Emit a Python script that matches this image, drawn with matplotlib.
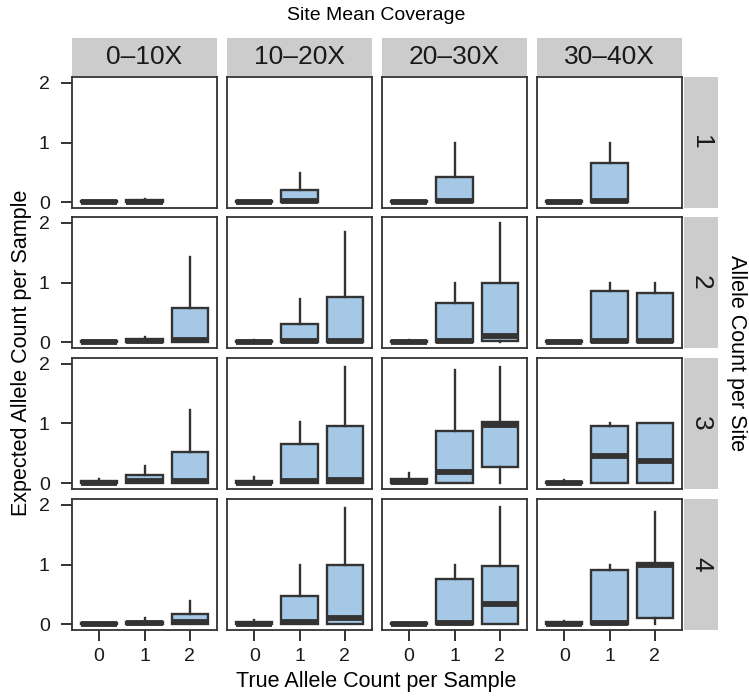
import matplotlib.pyplot as plt
import numpy as np

plt.rcParams['font.family'] = ['Liberation Sans', 'DejaVu Sans']

coverage = ['0\u201310X', '10\u201320X', '20\u201330X', '30\u201340X']
site_counts = ['1', '2', '3', '4']
true_counts = [0, 1, 2]

# box stats per [row = allele count per site][col = coverage][x = true count]
whisk_lo = [
    [[0, 0], [0, 0], [0, 0], [0, 0]],
    [[0, 0, 0], [0, 0, 0], [0, 0, 0], [0, 0, 0]],
    [[0, 0, 0], [0, 0, 0], [0, 0, 0.0], [0, 0, 0]],
    [[0, 0, 0], [0, 0, 0], [0, 0, 0], [0, 0, 0.0]],
]
q1 = [
    [[0, 0], [0, 0], [0, 0], [0, 0]],
    [[0, 0, 0], [0, 0, 0], [0, 0, 0.02], [0, 0, 0]],
    [[0, 0, 0], [0, 0, 0], [0, 0, 0.27], [0, 0, 0]],
    [[0, 0, 0], [0, 0, 0], [0, 0, 0], [0, 0, 0.1]],
]
med = [
    [[0, 0], [0, 0.02], [0, 0.02], [0, 0.02]],
    [[0, 0.02, 0.03], [0, 0.02, 0.02], [0, 0.02, 0.1], [0, 0.02, 0.02]],
    [[0, 0.03, 0.03], [0, 0.03, 0.05], [0.02, 0.18, 0.97], [0, 0.45, 0.37]],
    [[0, 0.02, 0.03], [0, 0.03, 0.1], [0, 0.02, 0.33], [0, 0.02, 1.0]],
]
q3 = [
    [[0.02, 0.03], [0.02, 0.2], [0.02, 0.42], [0.02, 0.65]],
    [[0.02, 0.05, 0.58], [0.02, 0.3, 0.75], [0.02, 0.66, 1.0], [0.02, 0.85, 0.83]],
    [[0.03, 0.13, 0.52], [0.04, 0.66, 0.96], [0.06, 0.88, 1.02], [0.02, 0.95, 1.0]],
    [[0.02, 0.04, 0.17], [0.03, 0.47, 1.0], [0.02, 0.76, 0.98], [0.03, 0.9, 1.02]],
]
whisk_hi = [
    [[0.02, 0.05], [0.02, 0.48], [0.02, 1.0], [0.02, 1.0]],
    [[0.02, 0.08, 1.42], [0.04, 0.73, 1.85], [0.03, 1.0, 2.0], [0.02, 1.0, 1.0]],
    [[0.07, 0.28, 1.22], [0.1, 1.02, 1.95], [0.17, 1.9, 1.95], [0.05, 1.0, 1.0]],
    [[0.02, 0.1, 0.38], [0.06, 1.0, 1.95], [0.02, 1.0, 1.97], [0.05, 1.0, 1.88]],
]

W, H = 749, 696
fig = plt.figure(figsize=(W / 100, H / 100), dpi=100)

col_left = [72, 227, 382, 537]
row_top = [77, 217, 358, 499]
pw, ph = 145, 131
edge = '#333333'
fill = '#a4c8e6'
strip_col = '#cccccc'


def fig_rect(x, y, w, h):
    return [x / W, 1 - (y + h) / H, w / W, h / H]


for r in range(4):
    for c in range(4):
        ax = fig.add_axes(fig_rect(col_left[c], row_top[r], pw, ph))
        stats = []
        for i in range(len(med[r][c])):
            stats.append(dict(whislo=whisk_lo[r][c][i], q1=q1[r][c][i], med=med[r][c][i],
                              q3=q3[r][c][i], whishi=whisk_hi[r][c][i], fliers=[]))
        ax.bxp(stats, positions=true_counts[:len(stats)], widths=0.8,
               patch_artist=True, showcaps=False, showfliers=False,
               boxprops=dict(facecolor=fill, edgecolor=edge, linewidth=1.7),
               whiskerprops=dict(color=edge, linewidth=1.7),
               medianprops=dict(color=edge, linewidth=4.2, solid_capstyle='butt'))
        ax.set_xlim(-0.6, 2.6)
        ax.set_ylim(-0.1, 2.1)
        for s in ax.spines.values():
            s.set_color(edge)
            s.set_linewidth(1.3)
        ax.tick_params(length=8, width=1.4, color=edge, labelsize=14, pad=5,
                       labelcolor='#1a1a1a')
        ax.tick_params(axis='y', pad=8)
        ax.set_yticks([0, 1, 2])
        ax.set_xticks(true_counts)
        ax.set_xticklabels([str(t) for t in true_counts])
        if c != 0:
            ax.tick_params(axis='y', left=False, labelleft=False)
        if r != 3:
            ax.tick_params(axis='x', bottom=False, labelbottom=False)

        if r == 0:
            sax = fig.add_axes(fig_rect(col_left[c], 38, pw, 38))
            sax.set_facecolor(strip_col)
            sax.set_xticks([])
            sax.set_yticks([])
            for s in sax.spines.values():
                s.set_visible(False)
            sax.text(0.5, 0.5, coverage[c], ha='center', va='center', fontsize=19,
                     transform=sax.transAxes, color='#1a1a1a')
        if c == 3:
            sax = fig.add_axes(fig_rect(684, row_top[r], 34, ph))
            sax.set_facecolor(strip_col)
            sax.set_xticks([])
            sax.set_yticks([])
            for s in sax.spines.values():
                s.set_visible(False)
            sax.text(0.5, 0.5, site_counts[r], ha='center', va='center', fontsize=19,
                     rotation=-90, transform=sax.transAxes, color='#1a1a1a')

fig.text(376 / W, 1 - 15 / H, 'Site Mean Coverage', ha='center', va='center', fontsize=14)
fig.text(376 / W, 1 - 682 / H, 'True Allele Count per Sample', ha='center', va='center', fontsize=15.5)
fig.text(22 / W, 1 - 353 / H, 'Expected Allele Count per Sample', ha='center', va='center',
         fontsize=15.5, rotation=90)
fig.text(737 / W, 1 - 353 / H, 'Allele Count per Site', ha='center', va='center',
         fontsize=15.5, rotation=-90)

fig.savefig('out.png', dpi=100)
